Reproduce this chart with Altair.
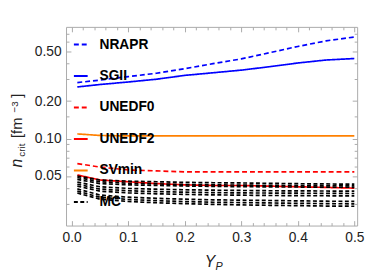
import altair as alt
import pandas as pd

# ---------------- data ----------------
yp = [0.01, 0.05, 0.1, 0.15, 0.2, 0.25, 0.3, 0.35, 0.4, 0.45, 0.5]

nrapr = [0.282, 0.295, 0.315, 0.335, 0.365, 0.40, 0.437, 0.49, 0.55, 0.61, 0.655]
sgii = [0.26, 0.272, 0.285, 0.30, 0.322, 0.338, 0.355, 0.378, 0.405, 0.428, 0.44]
unedf0 = [0.063, 0.059, 0.056, 0.055, 0.054, 0.054, 0.054, 0.054, 0.054, 0.054, 0.054]
unedf2 = [0.051, 0.0465, 0.045, 0.0435, 0.0425, 0.042, 0.042, 0.0415, 0.041, 0.0405, 0.040]
svmin = [0.109, 0.106, 0.105, 0.105, 0.105, 0.105, 0.105, 0.105, 0.105, 0.105, 0.105]

mc1 = [0.050, 0.0465, 0.0455, 0.045, 0.0445, 0.0442, 0.044, 0.0437, 0.0434, 0.0432, 0.043]
mc2 = [0.0487, 0.045, 0.0438, 0.0432, 0.0428, 0.0425, 0.0423, 0.0421, 0.0419, 0.0418, 0.0417]
mc3 = [0.047, 0.0435, 0.0425, 0.042, 0.0416, 0.0413, 0.0411, 0.0409, 0.0408, 0.0407, 0.0406]
mc4 = [0.0447, 0.041, 0.0398, 0.0392, 0.0388, 0.0385, 0.0383, 0.0381, 0.038, 0.0379, 0.0378]
mc5 = [0.043, 0.0393, 0.0381, 0.0375, 0.0371, 0.0368, 0.0366, 0.0365, 0.0364, 0.0363, 0.0362]
mc6 = [0.0415, 0.0378, 0.0366, 0.036, 0.0356, 0.0353, 0.0351, 0.0349, 0.0348, 0.0347, 0.0346]
mc7 = [0.0394, 0.0352, 0.0338, 0.0331, 0.0326, 0.0322, 0.032, 0.0318, 0.0316, 0.0314, 0.0313]
mc8 = [0.0378, 0.0338, 0.0324, 0.0317, 0.0312, 0.0308, 0.0306, 0.0304, 0.0302, 0.03, 0.0299]
mc9 = [0.0365, 0.0326, 0.0312, 0.0305, 0.03, 0.0296, 0.0293, 0.0291, 0.0289, 0.0287, 0.0286]

models = ["NRAPR", "SGII", "UNEDF0", "UNEDF2", "SVmin", "MC"]
colors = ["#0000ff", "#0000ff", "#ff0000", "#ff0000", "#ff8000", "#000000"]
dashes = [[5, 3], [1, 0], [5, 3], [1, 0], [1, 0], [4, 2.5]]

x_major = [0.0, 0.1, 0.2, 0.3, 0.4, 0.5]
x_minor = [0.02, 0.04, 0.06, 0.08, 0.12, 0.14, 0.16, 0.18, 0.22, 0.24, 0.26, 0.28,
           0.32, 0.34, 0.36, 0.38, 0.42, 0.44, 0.46, 0.48]
y_major = [0.05, 0.1, 0.2, 0.5]
y_minor = [0.03, 0.04, 0.06, 0.07, 0.08, 0.09, 0.15, 0.3, 0.4, 0.6, 0.7]

# ---------------- table ----------------
series = [("NRAPR", "NRAPR", nrapr), ("SGII", "SGII", sgii), ("UNEDF0", "UNEDF0", unedf0),
          ("UNEDF2", "UNEDF2", unedf2), ("SVmin", "SVmin", svmin)]
for i, m in enumerate([mc1, mc2, mc3, mc4, mc5, mc6, mc7, mc8, mc9]):
    series.append(("MC", f"MC{i+1}", m))

rows = []
for model, line, vals in series:
    for xv, yv in zip(yp, vals):
        rows.append({"model": model, "line": line, "Yp": xv, "n": yv})
df = pd.DataFrame(rows)

FONT = "Liberation Sans"
FRAME = "#aaaaaa"
xdom = [-0.01, 0.505]
ydom = [0.02, 0.79]

xscale = alt.Scale(domain=xdom, nice=False, zero=False)
yscale = alt.Scale(type="log", domain=ydom, nice=False, zero=False)

legend = alt.Legend(orient="none", legendX=7, legendY=10, title=None, symbolType="stroke",
                    symbolSize=196, symbolStrokeWidth=2, labelFontSize=14,
                    labelFontWeight="bold", labelFont=FONT, labelColor="black",
                    rowPadding=17, labelOffset=11, padding=0, direction="vertical")

lines = alt.Chart(df).mark_line(strokeWidth=1.7).encode(
    x=alt.X("Yp:Q", scale=xscale,
            axis=alt.Axis(values=x_major, format=".1f", labelFontSize=14, labelFont=FONT,
                          labelColor="#222222", tickSize=5, offset=-5, tickColor=FRAME,
                          domain=False, grid=False, title=None, labelPadding=5,
                          labelFlush=False, labelOverlap=False, orient="bottom")),
    y=alt.Y("n:Q", scale=yscale,
            axis=alt.Axis(values=y_major, format=".2f", labelFontSize=14, labelFont=FONT,
                          labelColor="#222222", tickSize=5, offset=-5, tickColor=FRAME,
                          domain=False, grid=False, title=None, labelPadding=5,
                          labelOverlap=False, orient="left")),
    color=alt.Color("model:N", scale=alt.Scale(domain=models, range=colors), legend=legend),
    strokeDash=alt.StrokeDash("model:N", scale=alt.Scale(domain=models, range=dashes), legend=legend),
    detail="line:N",
)


def tick_layer(xorient, yorient, xvals, yvals, size):
    return alt.Chart(df).mark_point(opacity=0).encode(
        x=alt.X("Yp:Q", scale=xscale,
                axis=alt.Axis(values=xvals, labels=False, tickSize=size, offset=-size,
                              tickColor=FRAME, domain=False, grid=False, title=None,
                              orient=xorient)),
        y=alt.Y("n:Q", scale=yscale,
                axis=alt.Axis(values=yvals, labels=False, tickSize=size, offset=-size,
                              tickColor=FRAME, domain=False, grid=False, title=None,
                              orient=yorient)),
    )


t2 = tick_layer("bottom", "left", x_minor, y_minor, 3)
t3 = tick_layer("top", "right", x_major, y_major, 5)
t4 = tick_layer("top", "right", x_minor, y_minor, 3)

one = pd.DataFrame({"a": [0]})


def txt(s, x, y, size=15, angle=0, style="normal"):
    return alt.Chart(one).mark_text(text=s, font=FONT, fontSize=size, fontStyle=style,
                                    angle=angle, align="left", baseline="alphabetic",
                                    color="#222222").encode(x=alt.value(x), y=alt.value(y))


# y title: n_crit [fm^-3] (rotated)
yt = [
    txt("n", -45, 143, 16, 270, "italic"),
    txt("crit", -42, 132, 10, 270),
    txt("[fm", -45, 113, 15, 270),
    txt("−3", -49, 87, 10, 270),
    txt("]", -45, 72, 15, 270),
]
# x title: Y_P
xt = [
    txt("Y", 141, 244, 16, 0, "italic"),
    txt("P", 152, 247, 11, 0, "italic"),
]

chart = alt.layer(lines, t2, t3, t4, *yt, *xt).resolve_axis(
    x="independent", y="independent"
).properties(
    width=296, height=202,
    autosize=alt.AutoSizeParams(type="none"),
    padding={"left": 59, "top": 17, "right": 9, "bottom": 45},
).configure_view(stroke=FRAME, strokeWidth=1)

chart.save("out.html", embed_options={"renderer": "svg", "actions": False})
